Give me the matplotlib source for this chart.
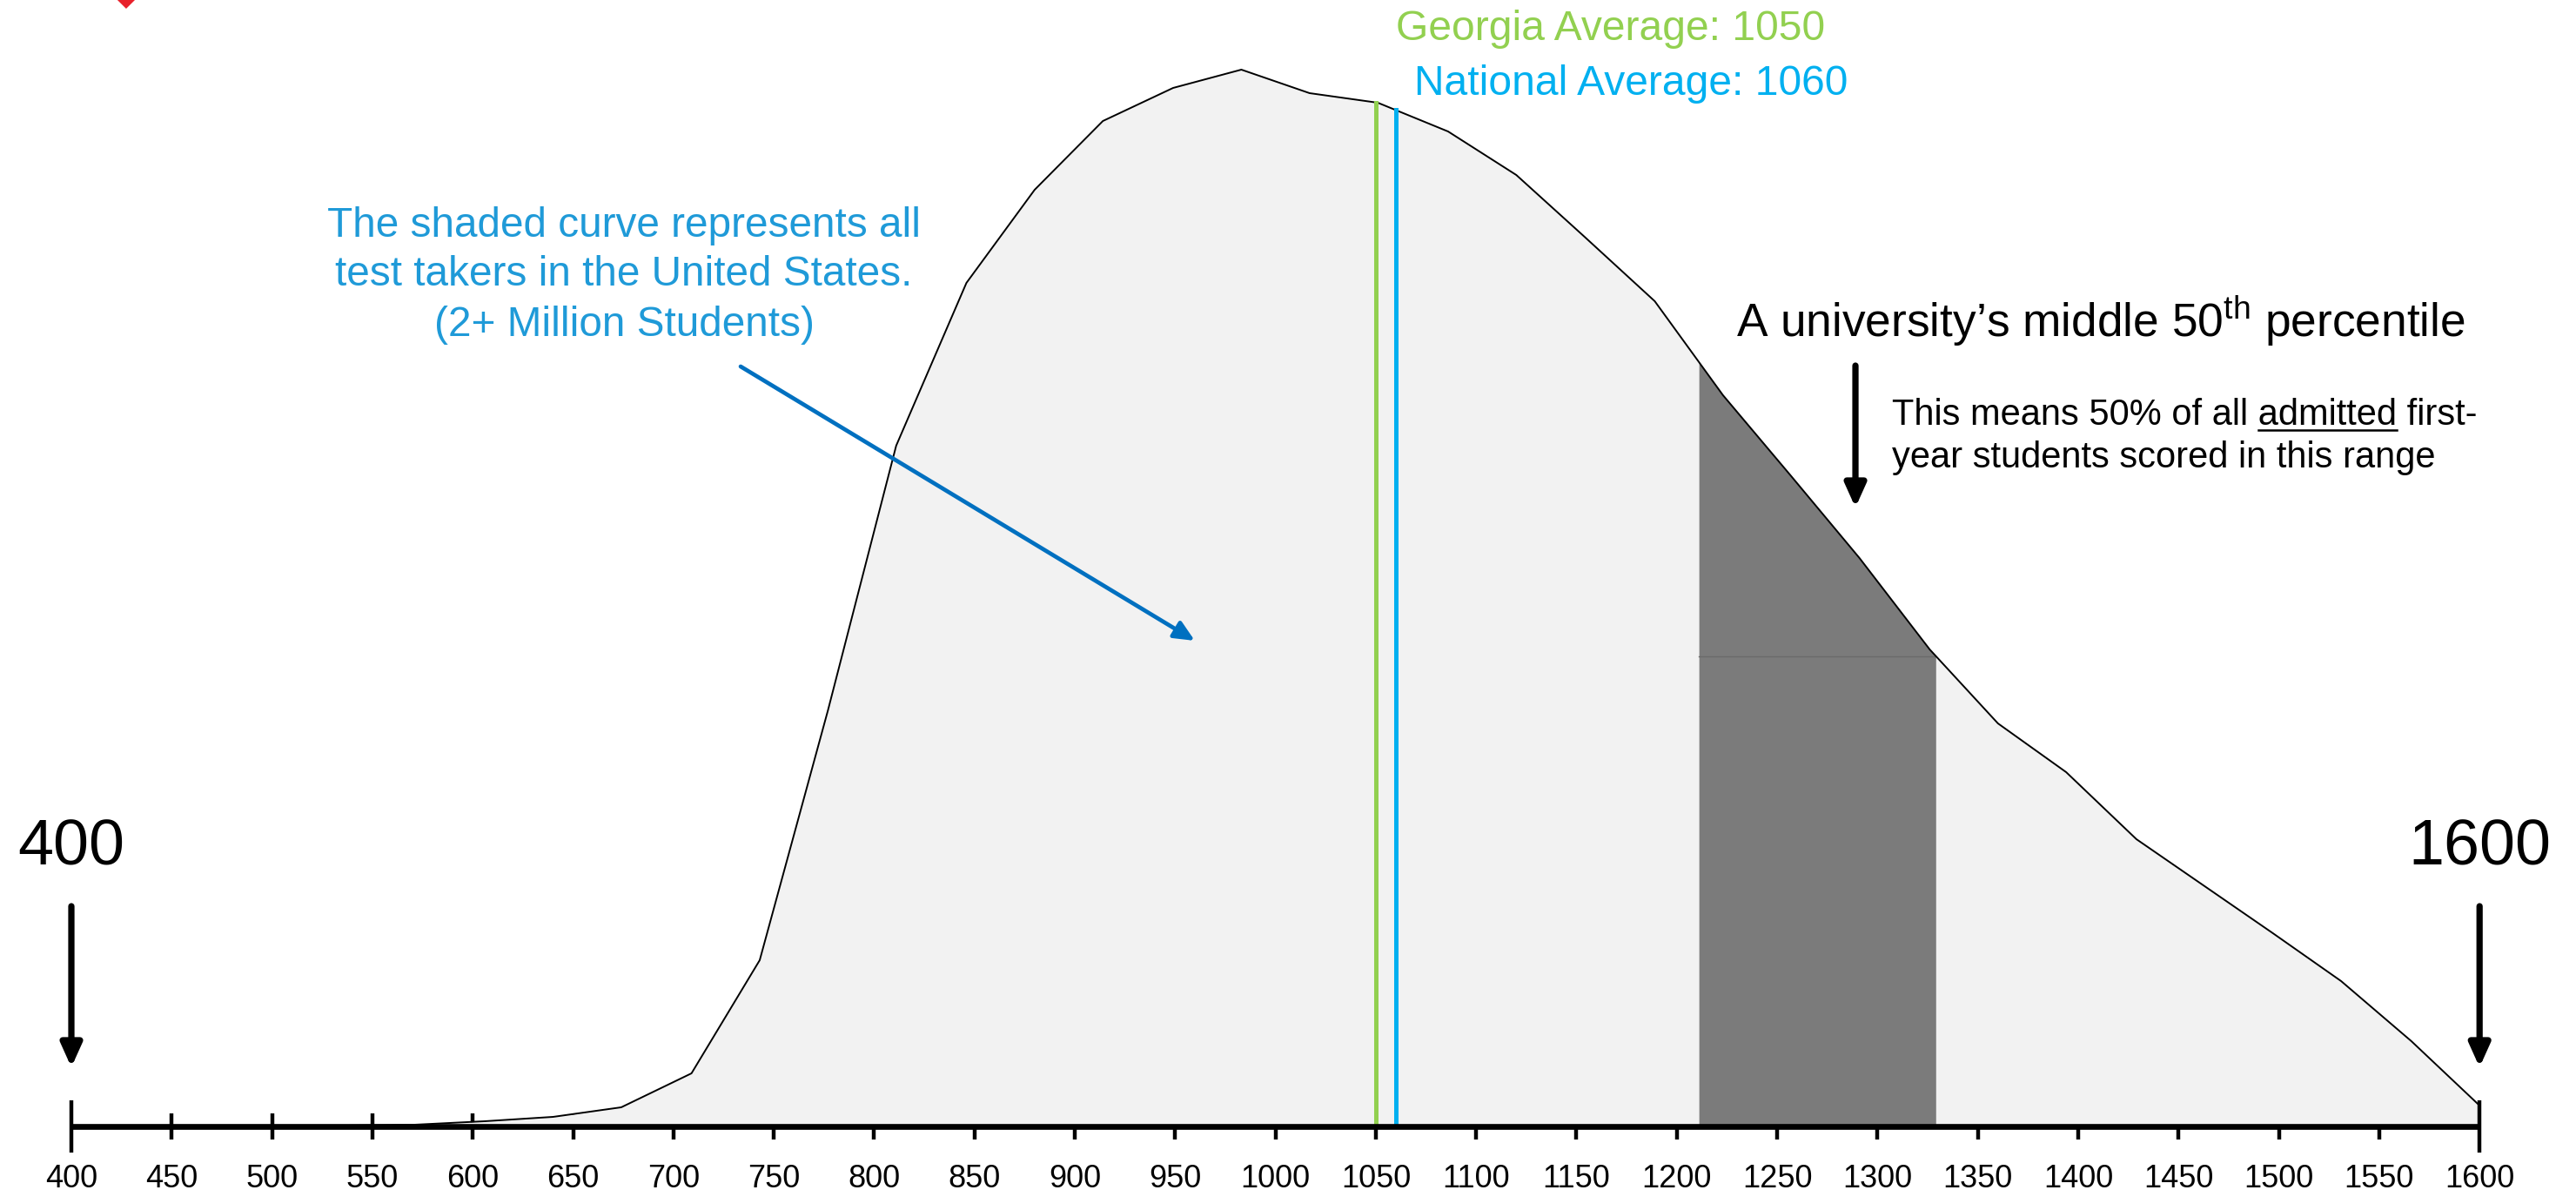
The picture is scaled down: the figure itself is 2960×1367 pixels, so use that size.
import numpy as np
import matplotlib
matplotlib.use('Agg')
import matplotlib.pyplot as plt
from matplotlib.patches import Polygon

plt.rcParams['font.family'] = ['Liberation Sans', 'DejaVu Sans']
plt.rcParams['mathtext.fontset'] = 'custom'
plt.rcParams['mathtext.rm'] = 'Liberation Sans'

# distribution of all test takers (relative height of curve)
scores = [400, 434, 469, 503, 537, 571, 606, 640, 674, 709, 743, 777, 811, 846, 880, 914, 949, 983,
          1017, 1051, 1086, 1120, 1154, 1189, 1223, 1257, 1291, 1326, 1360, 1394, 1429, 1463, 1497,
          1531, 1566, 1600]
heights = [0, 0, 0, 0.05, 0.1, 0.2, 0.6, 1.1, 2.2, 6.1, 19.1, 47.8, 78.2, 96.9, 107.6, 115.5, 119.3,
           121.4, 118.7, 117.6, 114.3, 109.3, 102.2, 94.8, 84.0, 74.7, 65.3, 54.8, 46.3, 40.7, 33.0,
           27.6, 22.2, 16.7, 9.8, 2.4]

mid50_low = 1211
mid50_high = 1329
georgia_avg = 1050
national_avg = 1060
tick_vals = list(range(400, 1601, 50))
tick_labels = [str(v) for v in tick_vals]

fig = plt.figure(figsize=(14.8, 6.835), dpi=200)
ax = fig.add_axes([0, 0, 1, 1])
ax.set_xlim(364.44, 1648.05)
ax.set_ylim(-7.3, 129.4)
ax.axis('off')

# ticks (under the fill)
small = [v for v in tick_vals if v not in (400, 1600)]
ax.vlines(small, -1.5, 1.5, color='black', lw=1.6, zorder=1)
ax.vlines([400, 1600], -3.0, 3.0, color='black', lw=1.6, zorder=4)

# main curve
ax.fill_between(scores, heights, 0, color='#f2f2f2', lw=0, zorder=2)
ax.plot(scores, heights, color='black', lw=0.7, zorder=3)

# middle 50 range
xs = np.array([mid50_low] + [s for s in scores if mid50_low < s < mid50_high] + [mid50_high])
ys = np.interp(xs, scores, heights)
ax.fill_between(xs, ys, 0, color='#7b7b7b', lw=0, zorder=2.5)
ax.plot([mid50_low, mid50_high], [ys[-1], ys[-1]], color='#6a6a6a', lw=0.5, zorder=2.6)

# averages
g_top = np.interp(georgia_avg, scores, heights)
n_top = np.interp(national_avg, scores, heights)
ax.plot([georgia_avg, georgia_avg], [0, g_top], color='#92d050', lw=1.8, zorder=3.5)
ax.plot([national_avg, national_avg], [0, n_top], color='#00b0f0', lw=1.8, zorder=3.5)
ax.text(1167, 124.8, 'Georgia Average: 1050', color='#92d050', fontsize=17.3, ha='center', va='baseline')
ax.text(1177, 118.5, 'National Average: 1060', color='#00b0f0', fontsize=17.3, ha='center', va='baseline')

# axis line
ax.plot([400, 1600], [0, 0], color='black', lw=2.4, zorder=4, solid_capstyle='butt')
for v, lab in zip(tick_vals, tick_labels):
    ax.text(v, -7.0, lab, fontsize=13, ha='center', va='baseline')

# 400 / 1600 end labels
arrow_k = dict(arrowstyle='-|>,head_width=0.36,head_length=0.8', lw=2.6, color='black',
               shrinkA=0, shrinkB=0)
for v in (400, 1600):
    ax.text(v, 30.0, str(v), fontsize=26.5, ha='center', va='baseline')
    ax.annotate('', xy=(v, 6.8), xytext=(v, 25.3), arrowprops=arrow_k)

# blue note
blue_txt = '#1f9ad8'
lines = ['The shaded curve represents all', 'test takers in the United States.', '(2+ Million Students)']
for ln, yy in zip(lines, [102.2, 96.6, 90.8]):
    ax.text(675.4, yy, ln, color=blue_txt, fontsize=17.2, ha='center', va='baseline')
ax.annotate('', xy=(959.8, 55.8), xytext=(733.5, 87.3),
            arrowprops=dict(arrowstyle='-|>,head_width=0.32,head_length=0.7', lw=1.7,
                            color='#0070c0', shrinkA=0, shrinkB=0))

# university note
ax.text(1229.6, 90.7, 'A university\u2019s middle 50$^{\\mathrm{th}}$ percentile', fontsize=19.2,
        ha='left', va='baseline')
ax.annotate('', xy=(1289, 71.1), xytext=(1289, 87.4), arrowprops=arrow_k)
x0 = 1307.2
ax.text(x0, 80.6, 'This means 50% of all admitted first-', fontsize=15, ha='left', va='baseline')
ax.text(x0, 75.7, 'year students scored in this range', fontsize=15, ha='left', va='baseline')

# underline "admitted"
fig.canvas.draw()
r = fig.canvas.get_renderer()
def width_px(s):
    t = ax.text(0, 0, s, fontsize=15)
    w = t.get_window_extent(r).width
    t.remove()
    return w
pre = width_px('This means 50% of all x') - width_px('x')
wd = width_px('admitted')
px_per_unit = ax.transData.transform((1, 0))[0] - ax.transData.transform((0, 0))[0]
ux0 = x0 + pre / px_per_unit
ux1 = ux0 + wd / px_per_unit
ax.plot([ux0, ux1], [80.0, 80.0], color='black', lw=0.9)

# red corner mark
ax.add_patch(Polygon([(422.5, 129.5), (427.3, 128.4), (432.1, 129.5), (427.3, 130.6)],
                     closed=True, color='#e8212b', lw=0, clip_on=False))

fig.savefig('out.png', dpi=200)
